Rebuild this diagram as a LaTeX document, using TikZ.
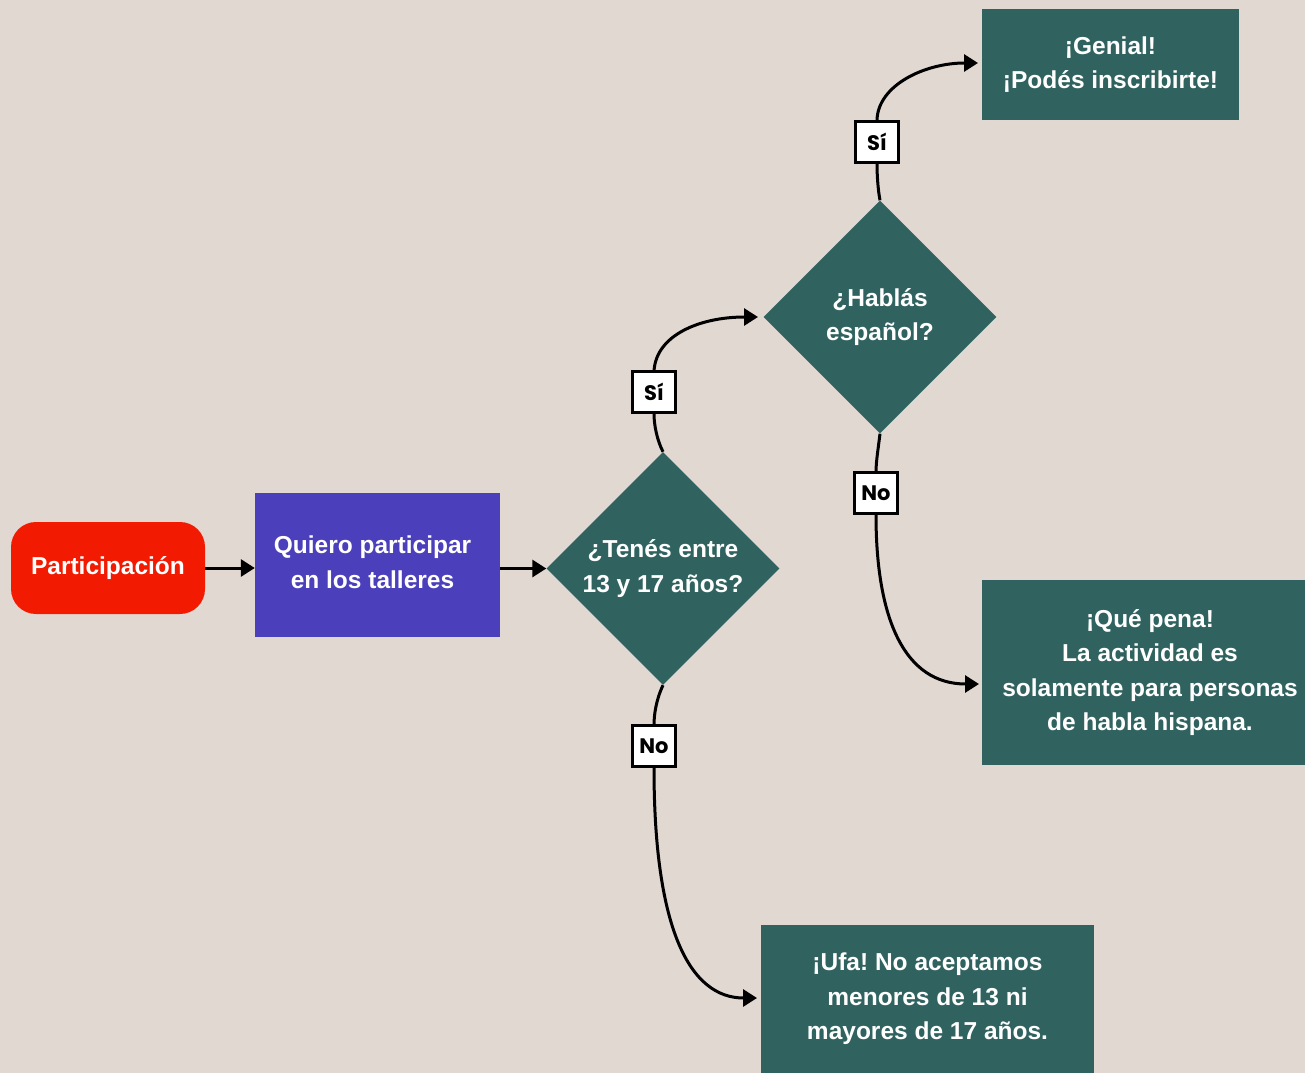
\documentclass[tikz,border=0pt]{standalone}
\usepackage{fontspec}
\setmainfont{Liberation Sans}
\newfontfamily\lblfont{Poppins}
\usetikzlibrary{shapes.geometric,arrows.meta}
\frenchspacing
\definecolor{bgc}{HTML}{E2D8D2}
\definecolor{redc}{HTML}{F21A00}
\definecolor{purc}{HTML}{4B3FBB}
\definecolor{grnc}{HTML}{306360}
\tikzset{
  txt/.style={text=white,font=\frenchspacing\fontsize{24.5}{34.5}\selectfont\bfseries,align=center,inner sep=0pt},
  boxg/.style={txt,fill=grnc,rectangle},
  dia/.style={txt,fill=grnc,diamond,aspect=1,minimum width=233pt,minimum height=233pt},
  lbl/.style={draw=black,fill=white,line width=3pt,minimum width=43pt,minimum height=41pt,inner sep=0pt,font=\lblfont\fontsize{21}{24}\selectfont\bfseries},
  conn/.style={line width=3pt,black,-{Triangle[length=14pt,width=17pt]}},
  seg/.style={line width=3pt,black}
}
\begin{document}
\begin{tikzpicture}[x=1pt,y=-1pt]
\fill[bgc] (0,0) rectangle (1305,1073);
\useasboundingbox (0,0) rectangle (1305,1073);
\node[txt,fill=redc,rounded corners=25pt,minimum width=194pt,minimum height=92pt] (p) at (108,568) {Participación};
\node[fill=purc,minimum width=245pt,minimum height=144pt,inner sep=0pt,
  label={[txt,xshift=-5pt,yshift=3pt]center:{Quiero participar\\en los talleres}}] (q) at (377.5,565) {};
\node[dia] (d1) at (663,568.5) {¿Tenés entre\\13 y 17 años?};
\node[dia] (d2) at (880,317) {¿Hablás\\español?};
\node[boxg,minimum width=257pt,minimum height=111pt] (g) at (1110.5,64.5) {¡Genial!\\¡Podés inscribirte!};
\node[boxg,minimum width=336pt,minimum height=185pt] (qp) at (1150,672.5) {¡Qué pena!\\La actividad es\\solamente para personas\\de habla hispana.};
\node[boxg,minimum width=333pt,minimum height=148pt] (u) at (927.5,999) {¡Ufa! No aceptamos\\menores de 13 ni\\mayores de 17 años.};
\coordinate (qpin) at (982,684);
\coordinate (uin) at (761,998);
\coordinate (d2in) at (763,317);
\coordinate (gin) at (982,63);
% straight arrows
\draw[conn] (p.east) -- (p.east -| q.west);
\draw[conn] (d1.west -| q.east) -- (d1.west);
% label segments
\draw[seg] (d1.north) .. controls (657,440) and (654,425) .. (654,414);
\draw[conn,shorten >=5pt] (654,371) .. controls (656,335) and (700,317) .. (d2in);
\draw[seg] (d2.north) .. controls (878,190) and (877,175) .. (877,164);
\draw[conn,shorten >=4pt] (877,120) .. controls (878,85) and (925,63) .. (gin);
\draw[seg] (d2.south) .. controls (878,450) and (876,462) .. (876,472);
\draw[conn,shorten >=3pt] (876,515) .. controls (876,620) and (905,684) .. (qpin);
\draw[seg] (d1.south) .. controls (656,700) and (654,715) .. (654,725);
\draw[conn,shorten >=4pt] (654,768) .. controls (654,930) and (690,998) .. (uin);
% labels
\node[lbl] (s1) at (654,392) {Sí};
\node[lbl] (n1) at (654,746) {No};
\node[lbl] (s2) at (877,142) {Sí};
\node[lbl] (n2) at (876,493) {No};
\end{tikzpicture}
\end{document}
